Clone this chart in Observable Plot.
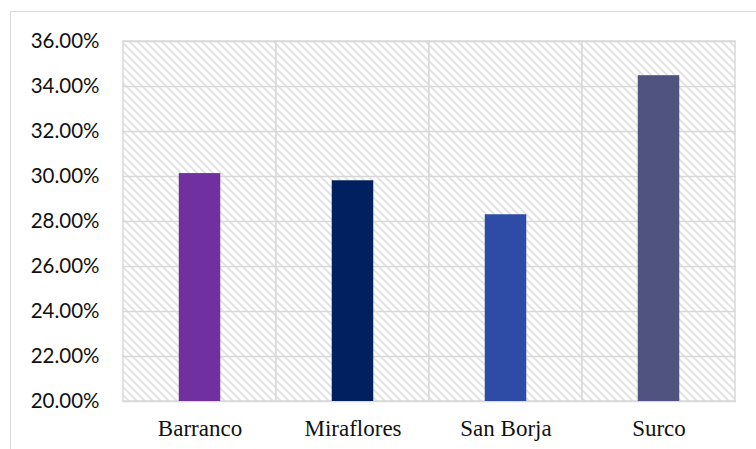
<!DOCTYPE html>
<html>
<head>
<meta charset="utf-8">
<script src="https://cdn.jsdelivr.net/npm/d3@7"></script>
<script src="https://cdn.jsdelivr.net/npm/@observablehq/plot@0.6"></script>
<style>
  html, body { margin: 0; padding: 0; background: #fff; }
  #wrap { position: relative; width: 756px; height: 449px; overflow: hidden; }
  #border { position: absolute; left: 10px; top: 11px; width: 800px; height: 500px;
            border-left: 1px solid #d9d9d9; border-top: 1px solid #d9d9d9; }
  #chart { position: absolute; left: 0; top: 0; }
</style>
</head>
<body>
<div id="wrap"><div id="border"></div><div id="chart"></div></div>
<script>
// District shares (percent)
const districts = ["Barranco", "Miraflores", "San Borja", "Surco"];
const shares = [30.13, 29.81, 28.30, 34.48];
const yTicks = [20, 22, 24, 26, 28, 30, 32, 34, 36];

const barColors = ["#7030a0", "#002060", "#2e4ca6", "#50527f"];
const gridColor = "#d9d9d9";

const rows = districts.map((name, i) => ({name, value: shares[i]}));

const chart = Plot.plot({
  width: 756,
  height: 449,
  marginLeft: 122,
  marginRight: 20,
  marginTop: 41,
  marginBottom: 48,
  style: {background: "transparent", color: "#000"},
  x: {domain: districts, padding: 0, axis: null},
  y: {domain: [yTicks[0], yTicks[yTicks.length - 1]], axis: null},
  color: {domain: districts, range: barColors},
  marks: [
    // hatched panel per district, its outline doubles as the vertical grid
    Plot.cell(districts, {x: d => d, fill: "url(#hatch)", stroke: gridColor, strokeWidth: 1.5, inset: 0}),
    Plot.ruleY(yTicks, {stroke: gridColor, strokeWidth: 1.5}),
    Plot.barY(rows, {x: "name", y1: yTicks[0], y2: "value", fill: "name", insetLeft: 55.75, insetRight: 55.75}),
    Plot.axisY(yTicks, {
      tickSize: 0, tickPadding: 23,
      tickFormat: d => d.toFixed(2) + "%",
      fontSize: 20.5, fontFamily: "Lato", fill: "#111", label: null
    }),
    Plot.axisX({
      tickSize: 0, tickPadding: 18,
      fontSize: 23, fontFamily: "Liberation Serif", fill: "#111", label: null
    })
  ]
});

// diagonal hatch used behind the bars
const defs = d3.select(chart).insert("defs", ":first-child");
const pat = defs.append("pattern")
  .attr("id", "hatch")
  .attr("patternUnits", "userSpaceOnUse")
  .attr("width", 8).attr("height", 8);
pat.append("rect").attr("width", 8).attr("height", 8).attr("fill", "#fff");
pat.append("path")
  .attr("d", "M-2,-2L10,10M-2,6L2,10M6,-2L10,2")
  .attr("stroke", "#e0e0e0")
  .attr("stroke-width", 1.8);

document.getElementById("chart").appendChild(chart);
</script>
</body>
</html>
